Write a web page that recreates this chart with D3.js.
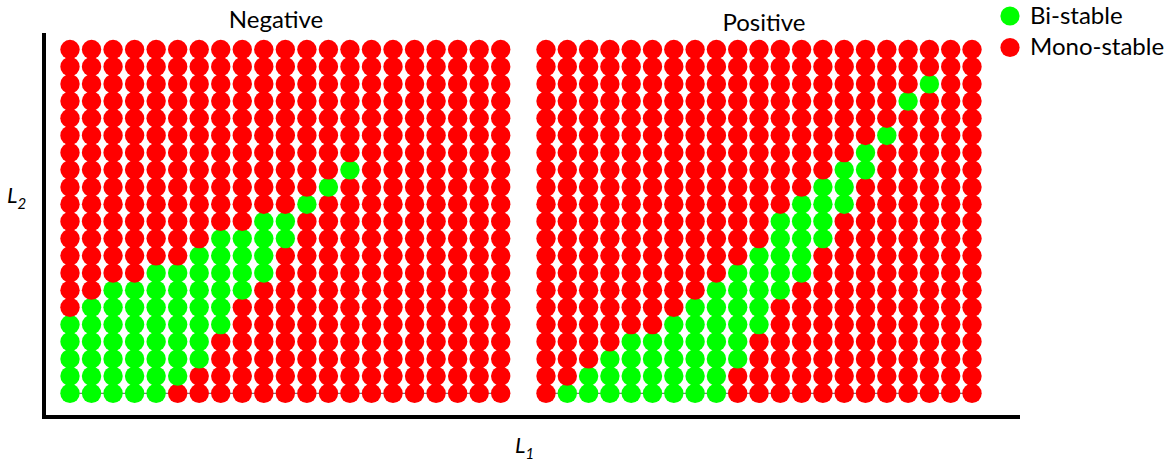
<!DOCTYPE html>
<html>
<head>
<meta charset="utf-8">
<script src="https://cdn.jsdelivr.net/npm/d3@7"></script>
<style>
  html, body { margin: 0; padding: 0; background: #fff; }
  svg { display: block; }
  text { font-family: Lato, "Open Sans", sans-serif; fill: #000; }
</style>
</head>
<body>
<svg id="chart" width="1176" height="463"></svg>
<script>
// Parameter grid: 21 steps of L1 (columns) by 21 steps of L2 (rows)
const l1Steps = [0, 1, 2, 3, 4, 5, 6, 7, 8, 9, 10, 11, 12, 13, 14, 15, 16, 17, 18, 19, 20];
const l2Steps = [0, 1, 2, 3, 4, 5, 6, 7, 8, 9, 10, 11, 12, 13, 14, 15, 16, 17, 18, 19, 20];

const panelNames = ["Negative", "Positive"];

// For each L1 step: lowest and highest L2 step that is bi-stable (null = none)
const negativeBistableLow  = [0, 0, 0, 0, 0, 1, 2, 4, 6, 7, 9, 11, 12, 13, null, null, null, null, null, null, null];
const negativeBistableHigh = [4, 5, 6, 6, 7, 7, 8, 9, 9, 10, 10, 11, 12, 13, null, null, null, null, null, null, null];
const positiveBistableLow  = [null, 0, 0, 0, 0, 0, 0, 0, 0, 2, 4, 6, 7, 9, 11, 13, 15, 17, 18, null, null];
const positiveBistableHigh = [null, 0, 1, 2, 3, 3, 4, 5, 6, 7, 8, 10, 11, 12, 13, 14, 15, 17, 18, null, null];

const stateLabels = ["Bi-stable", "Mono-stable"];
const stateColors = ["#00ff00", "#ff0000"];

const svg = d3.select("#chart");
const color = d3.scaleOrdinal().domain(stateLabels).range(stateColors);

const panels = [
  { name: panelNames[0], low: negativeBistableLow, high: negativeBistableHigh, x0: 70, x1: 500.7, titleX: 276, titleY: 28 },
  { name: panelNames[1], low: positiveBistableLow, high: positiveBistableHigh, x0: 546, x1: 972, titleX: 764, titleY: 31 }
];

const y = d3.scalePoint().domain(l2Steps).range([393.3, 49.5]);
const r = 9.7;

panels.forEach(p => {
  const x = d3.scalePoint().domain(l1Steps).range([p.x0, p.x1]);
  const g = svg.append("g").attr("class", "panel");

  // thin baseline through the lowest row
  g.append("line")
    .attr("x1", x(l1Steps[0])).attr("x2", x(l1Steps[l1Steps.length - 1]))
    .attr("y1", y(l2Steps[0])).attr("y2", y(l2Steps[0]))
    .attr("stroke", "#555").attr("stroke-width", 1);

  // one cell per (L1, L2) pair; lower rows first so upper rows sit on top
  const cells = [];
  l2Steps.forEach(j => {
    l1Steps.forEach((i, k) => {
      const lo = p.low[k], hi = p.high[k];
      const bi = lo !== null && j >= lo && j <= hi;
      cells.push({ l1: i, l2: j, state: bi ? stateLabels[0] : stateLabels[1] });
    });
  });

  g.selectAll("circle.cell").data(cells).join("circle")
    .attr("class", "cell")
    .attr("cx", d => x(d.l1))
    .attr("cy", d => y(d.l2))
    .attr("r", r)
    .attr("fill", d => color(d.state));

  g.append("text")
    .attr("x", p.titleX).attr("y", p.titleY)
    .attr("text-anchor", "middle")
    .style("font-size", "24px")
    .text(p.name);
});

// axes frame
svg.append("line").attr("x1", 44).attr("x2", 44).attr("y1", 33).attr("y2", 419)
  .attr("stroke", "#000").attr("stroke-width", 4);
svg.append("line").attr("x1", 42).attr("x2", 1020).attr("y1", 417).attr("y2", 417)
  .attr("stroke", "#000").attr("stroke-width", 4);

// axis labels with subscripts
function subLabel(xPos, yPos, main, sub) {
  const t = svg.append("text").attr("x", xPos).attr("y", yPos)
    .style("font-size", "22px").style("font-style", "italic");
  t.append("tspan").text(main);
  t.append("tspan").attr("dy", 6).style("font-size", "15px").text(sub);
}
subLabel(7, 203, "L", "2");
subLabel(515, 453, "L", "1");

// legend
const legend = svg.append("g").attr("class", "legend");
const legendY = d3.scalePoint().domain(stateLabels).range([16, 47.5]);
legend.selectAll("circle").data(stateLabels).join("circle")
  .attr("cx", 1010).attr("cy", d => legendY(d)).attr("r", 9.6)
  .attr("fill", d => color(d));
legend.selectAll("text").data(stateLabels).join("text")
  .attr("x", 1030).attr("y", d => legendY(d) + 7.5)
  .style("font-size", "24px")
  .text(d => d);
</script>
</body>
</html>
